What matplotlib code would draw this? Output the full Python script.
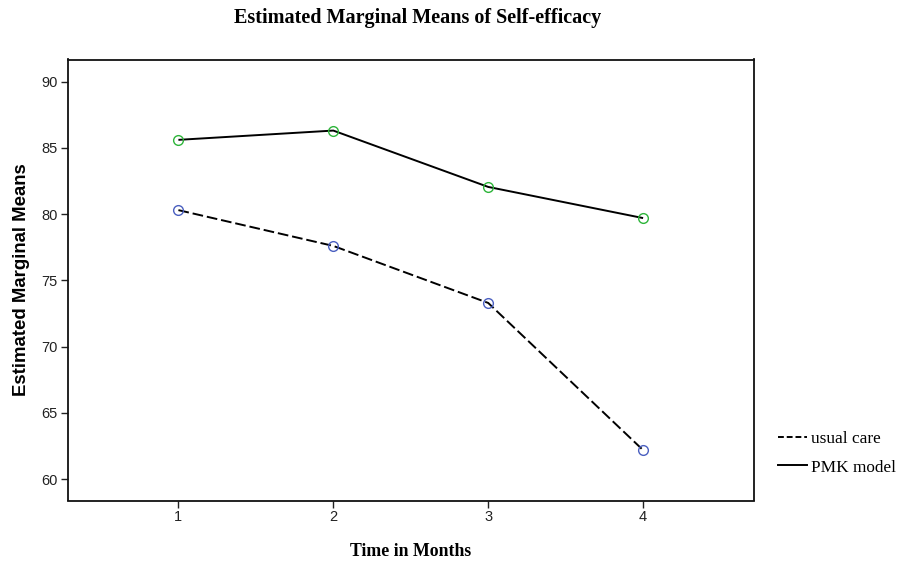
import matplotlib
matplotlib.use("Agg")
import matplotlib.pyplot as plt
from matplotlib.lines import Line2D

months = [1, 2, 3, 4]
usual_care = [80.3, 77.6, 73.3, 62.2]
pmk_model = [85.6, 86.3, 82.05, 79.7]
yticks = [60, 65, 70, 75, 80, 85, 90]

fig = plt.figure(figsize=(9.06, 5.63), dpi=100)
ax = fig.add_axes([67.5/906, 1-500.5/563, (754-67.5)/906, (500.5-59.5)/563])

ax.plot(months, pmk_model, color="black", lw=1.4, solid_capstyle="butt")
ax.plot(months, usual_care, color="black", lw=1.4, dashes=(5.5, 2))
ax.plot(months, pmk_model, ls="none", marker="o", mfc="none", mec="#2db53a", ms=7, mew=1.0)
ax.plot(months, usual_care, ls="none", marker="o", mfc="none", mec="#4a5fc0", ms=7, mew=1.0)

ax.set_xlim(0.284, 4.716)
ax.set_ylim(58.4, 91.66)
ax.set_xticks(months)
ax.set_yticks(yticks)
ax.tick_params(direction="out", length=5, width=1.0, labelsize=10.5, color="#222222",
               labelcolor="#222222", pad=2)
for lab in ax.get_xticklabels() + ax.get_yticklabels():
    lab.set_family("Liberation Sans")
for s in ax.spines.values():
    s.set_linewidth(1.3)
    s.set_color("#111111")

fig.text(418/906, 1-18/563, "Estimated Marginal Means of Self-efficacy", ha="center", va="center",
         family="Liberation Serif", fontweight="bold", fontsize=14.5)
fig.text(411/906, 1-551/563, "Time in Months", ha="center", va="center",
         family="Liberation Serif", fontweight="bold", fontsize=12.8)
fig.text(22/906, 1-280/563, "Estimated Marginal Means", ha="center", va="center", rotation=90,
         family="Liberation Sans", fontweight="bold", fontsize=13.4)

handles = [Line2D([0], [0], color="black", lw=1.4, dashes=(3, 1.5)),
           Line2D([0], [0], color="black", lw=1.4)]
leg = fig.legend(handles, ["usual care", "PMK model"], loc="center left",
                 bbox_to_anchor=(762/906, 1-453/563), frameon=False,
                 prop={"family": "Liberation Serif", "size": 12.4},
                 handlelength=1.7, handletextpad=0.25, labelspacing=0.75)

fig.savefig("out.png", dpi=100)
